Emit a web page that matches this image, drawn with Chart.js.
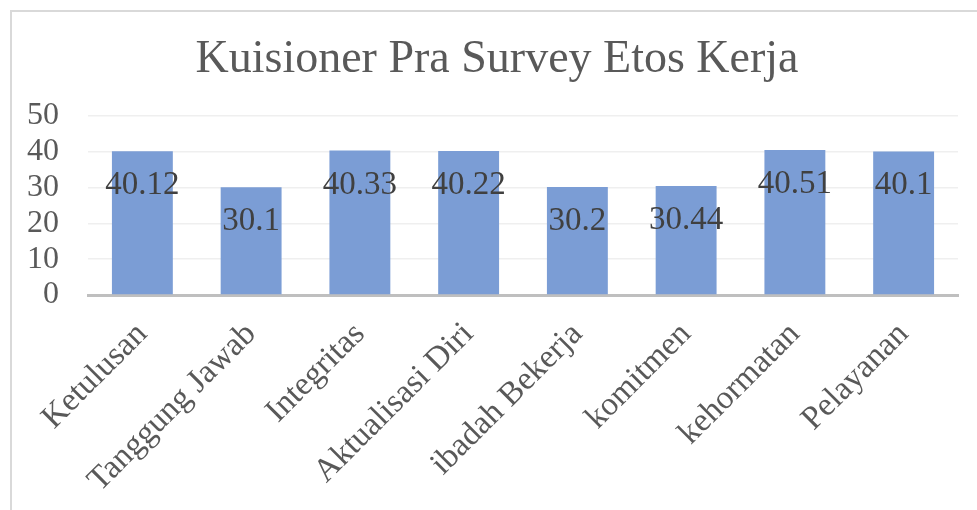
<!DOCTYPE html>
<html>
<head>
<meta charset="utf-8">
<script src="https://cdn.jsdelivr.net/npm/chart.js@4/dist/chart.umd.min.js"></script>
<style>
  html, body { margin: 0; padding: 0; background: #fff; }
  #frame { position: absolute; left: 10px; top: 10px; width: 980px; height: 520px;
           border-left: 2px solid #d9d9d9; border-top: 2px solid #d9d9d9; box-sizing: border-box; }
  #wrap { position: absolute; left: 0; top: 0; width: 977px; height: 510px; }
</style>
</head>
<body>
<div id="frame"></div>
<div id="wrap"><canvas id="c" width="977" height="510"></canvas></div>
<script>
const categories = ["Ketulusan", "Tanggung Jawab", "Integritas", "Aktualisasi Diri", "ibadah Bekerja", "komitmen", "kehormatan", "Pelayanan"];
const values = [40.12, 30.1, 40.33, 40.22, 30.2, 30.44, 40.51, 40.1];
const valueLabels = ["40.12", "30.1", "40.33", "40.22", "30.2", "30.44", "40.51", "40.1"];
const yTicks = [0, 10, 20, 30, 40, 50];
const titleText = "Kuisioner Pra Survey Etos Kerja";

const FONT = "'Liberation Serif', 'Times New Roman', serif";

const labelPlugin = {
  id: 'valueLabels',
  afterDatasetsDraw(chart) {
    const ctx = chart.ctx;
    const meta = chart.getDatasetMeta(0);
    ctx.save();
    ctx.font = "33px " + FONT;
    ctx.fillStyle = "#404040";
    ctx.textAlign = "center";
    ctx.textBaseline = "alphabetic";
    meta.data.forEach((bar, i) => {
      ctx.fillText(valueLabels[i], bar.x, bar.y + 43);
    });
    ctx.restore();
  },
  afterDraw(chart) {
    const ctx = chart.ctx;
    ctx.save();
    ctx.font = "46px " + FONT;
    ctx.fillStyle = "#595959";
    ctx.textAlign = "center";
    ctx.textBaseline = "alphabetic";
    ctx.fillText(titleText, 497, 72);
    ctx.restore();
  }
};

new Chart(document.getElementById('c'), {
  type: 'bar',
  data: {
    labels: categories,
    datasets: [{
      data: values,
      backgroundColor: '#7b9dd5',
      borderWidth: 0,
      categoryPercentage: 1.0,
      barPercentage: 0.56
    }]
  },
  options: {
    responsive: false,
    animation: false,
    events: [],
    layout: { padding: { left: 0, right: 19, top: 116, bottom: 0 } },
    plugins: {
      legend: { display: false },
      tooltip: { enabled: false },
      title: { display: false }
    },
    scales: {
      x: {
        grid: { display: false },
        border: { display: true, color: '#bfbfbf', width: 3 },
        ticks: {
          color: '#595959',
          font: { family: FONT, size: 33 },
          minRotation: 45,
          maxRotation: 45,
          padding: 12,
          autoSkip: false
        },
        afterFit(scale) { scale.height = 215; }
      },
      y: {
        min: 0,
        max: 50,
        afterBuildTicks(scale) { scale.ticks = yTicks.map(v => ({ value: v })); },
        grid: { color: '#efefef', lineWidth: 1.5, drawTicks: false },
        border: { display: false },
        ticks: {
          color: '#595959',
          font: { family: FONT, size: 32 },
          padding: 29,
          autoSkip: false
        },
        afterFit(scale) { scale.width = 88; }
      }
    }
  },
  plugins: [labelPlugin]
});
</script>
</body>
</html>
